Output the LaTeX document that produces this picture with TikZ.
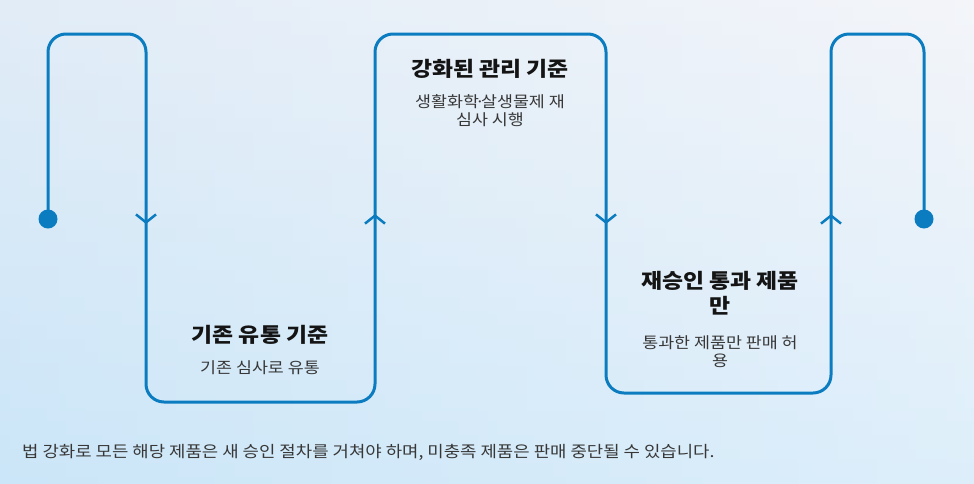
\documentclass[tikz,border=0pt]{standalone}
\usepackage{fontspec}
\setmainfont[FakeStretch=1.12]{Noto Sans CJK KR}
\usetikzlibrary{arrows.meta}
\definecolor{flowblue}{RGB}{11,124,192}
\definecolor{bgtop}{RGB}{238,240,247}
\definecolor{bgbot}{RGB}{203,230,248}
\definecolor{headcol}{RGB}{20,20,20}
\definecolor{subcol}{RGB}{55,55,55}
\tikzstyle{flow}=[draw=flowblue, line width=3pt, rounded corners=18pt]
\tikzstyle{chev}=[draw=flowblue, line width=2.5pt, -{Straight Barb[length=8pt,width=20pt]}]
\tikzstyle{endpt}=[circle, fill=flowblue, inner sep=0pt, minimum size=19pt]
\tikzstyle{headtxt}=[font=\bfseries\fontsize{20.4}{25}\selectfont, text=headcol, align=center]
\tikzstyle{subtxt}=[font=\fontsize{15.5}{18.5}\selectfont, text=subcol, align=center]
\tikzstyle{notetxt}=[font=\fontsize{15.9}{19}\selectfont, text=subcol, anchor=west, inner sep=0pt]

\begin{document}
\begin{tikzpicture}[x=1pt,y=-1pt]
    % background
    \shade[top color=bgtop, bottom color=bgbot] (0,0) rectangle (974,483);
    \shade[left color=bgbot, right color=white, opacity=0.35] (0,0) rectangle (974,483);
    \useasboundingbox (0,0) rectangle (974,483);

    % end points and turns of the flow line
    \node[endpt] (dA) at (48,219) {};
    \node[endpt] (dB) at (924,219) {};
    \coordinate (k1) at (48,34);
    \coordinate (k2) at (146,34);
    \coordinate (k3) at (146,402);
    \coordinate (k4) at (375,402);
    \coordinate (k5) at (375,34);
    \coordinate (k6) at (606,34);
    \coordinate (k7) at (606,393);
    \coordinate (k8) at (831,393);
    \coordinate (k9) at (831,34);
    \coordinate (k10) at (924,34);
    \draw[flow] (dA.center) -- (k1) -- (k2) -- (k3) -- (k4) -- (k5) -- (k6)
        -- (k7) -- (k8) -- (k9) -- (k10) -- (dB.center);

    % direction marks
    \coordinate (m1) at (146,224);
    \coordinate (m2) at (375,214);
    \coordinate (m3) at (606,224);
    \coordinate (m4) at (831,214);
    \draw[chev] ([yshift=20pt]m1) -- (m1);
    \draw[chev] ([yshift=-20pt]m2) -- (m2);
    \draw[chev] ([yshift=20pt]m3) -- (m3);
    \draw[chev] ([yshift=-20pt]m4) -- (m4);

    % texts
    \node[headtxt] (h1) at (260,335) {기존 유통 기준};
    \node[subtxt] (s1) at (260,368) {기존 심사로 유통};
    \node[headtxt] (h2) at (490,69) {강화된 관리 기준};
    \node[subtxt, anchor=north] (s2) at (490,91) {생활화학\kern-0.25em·\kern-0.25em살생물제 재\\심사 시행};
    \node[headtxt, anchor=north] (h3) at (720,268) {재승인 통과 제품\\만};
    \node[subtxt, anchor=north] (s3) at (720,332) {통과한 제품만 판매 허\\용};
    \node[notetxt] (nt) at (22,452) {법 강화로 모든 해당 제품은 새 승인 절차를 거쳐야 하며, 미충족 제품은 판매 중단될 수 있습니다.};
\end{tikzpicture}
\end{document}
